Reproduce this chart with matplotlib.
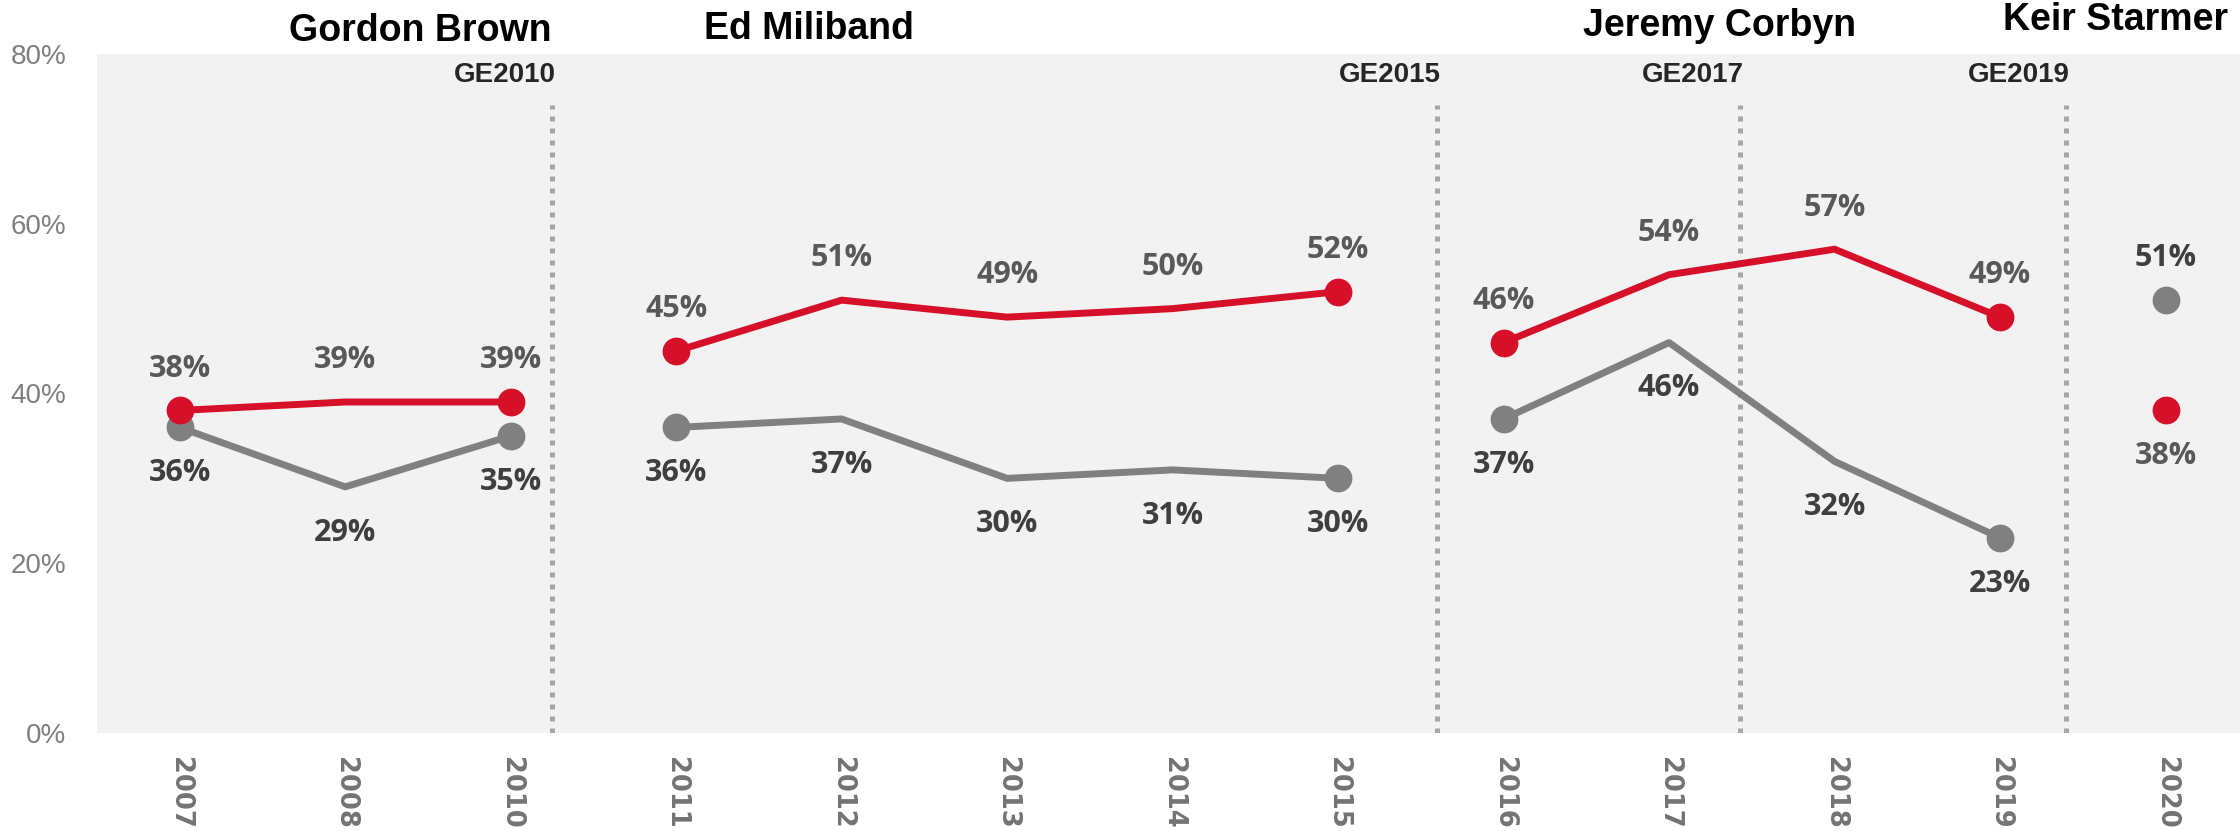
import matplotlib
matplotlib.use("Agg")
import matplotlib.pyplot as plt
import numpy as np

# values
years = ['2007', '2008', '2010', '2011', '2012', '2013', '2014', '2015',
         '2016', '2017', '2018', '2019', '2020']
red_vals = [38, 39, 39, 45, 51, 49, 50, 52, 46, 54, 57, 49, 38]
grey_vals = [36, 29, 35, 36, 37, 30, 31, 30, 37, 46, 32, 23, 51]

# leader periods as (first index, last index)
periods = [(0, 2), (3, 7), (8, 11), (12, 12)]
leaders = ['Gordon Brown', 'Ed Miliband', 'Jeremy Corbyn', 'Keir Starmer']

elections = ['GE2010', 'GE2015', 'GE2017', 'GE2019']
election_pos = [2.25, 7.6, 9.43, 11.4]

RED = '#d7102a'
GREY = '#808080'

plt.rcParams['font.family'] = ['Liberation Sans', 'DejaVu Sans']

fig = plt.figure(figsize=(22.4, 8.31), dpi=100)
ax = fig.add_axes([97 / 2240, 98 / 831, (2240 - 97) / 2240, (733 - 54) / 831])
ax.set_facecolor('#f2f2f2')

x = np.arange(len(years))
for a, b in periods:
    xs = x[a:b + 1]
    ax.plot(xs, grey_vals[a:b + 1], color=GREY, lw=5, solid_capstyle='round', zorder=3)
    ax.plot(xs, red_vals[a:b + 1], color=RED, lw=5, solid_capstyle='round', zorder=4)
    ends = sorted(set([a, b]))
    ax.plot(x[ends], [grey_vals[i] for i in ends], 'o', color=GREY, ms=19, zorder=3)
    ax.plot(x[ends], [red_vals[i] for i in ends], 'o', color=RED, ms=19, zorder=4)

# data labels: the higher series above, the lower below
for i in range(len(years)):
    for v, other, col in [(red_vals[i], grey_vals[i], '#595959'),
                          (grey_vals[i], red_vals[i], '#3f3f3f')]:
        off = 30 if v >= other else -33
        ax.annotate(f'{v}%', (x[i], v), xytext=(0, off), textcoords='offset points',
                    ha='center', va='center', fontsize=22, fontweight='bold', color=col,
                    family=['Open Sans', 'DejaVu Sans'])

# election lines
for lab, pos in zip(elections, election_pos):
    ax.plot([pos, pos], [0, 74], color='#a6a6a6', lw=3.6, ls=(0, (1.0, 1.4)), zorder=2)
    ax.text(pos + 0.02, 77.5, lab, ha='right', va='center', fontsize=20,
            fontweight='bold', color='#262626')

# leader names above the plot
leader_x = [2.25, 3.17, 10.13, 12.38]
leader_ha = ['right', 'left', 'right', 'right']
leader_y = [82.7, 82.9, 83.3, 84.0]
for name, lx, ha, ly in zip(leaders, leader_x, leader_ha, leader_y):
    ax.text(lx, ly, name, ha=ha, va='center', fontsize=27, fontweight='bold',
            color='black', clip_on=False)

ax.set_xlim(-0.5, 12.45)
ax.set_ylim(0, 80)
ax.set_xticks(x)
ax.set_xticklabels(years, rotation=-90, fontsize=18.5, fontweight='bold', color='#737373',
                   family='DejaVu Sans')
ax.set_yticks([0, 20, 40, 60, 80])
ax.set_yticklabels([f'{t}%' for t in [0, 20, 40, 60, 80]], fontsize=20, color='#7f7f7f')
ax.tick_params(axis='both', length=0)
ax.tick_params(axis='x', pad=17)
ax.tick_params(axis='y', pad=22)
for s in ax.spines.values():
    s.set_visible(False)

fig.savefig('out.png', dpi=100)
